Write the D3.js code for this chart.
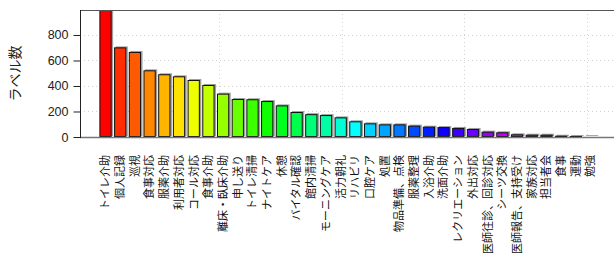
<!DOCTYPE html>
<html>
<head>
<meta charset="utf-8">
<script src="https://cdn.jsdelivr.net/npm/d3@7"></script>
<style>
  body { margin: 0; background: #fff; }
  text { font-family: "Liberation Sans", Arial, sans-serif; }
  .jp { font-family: "Noto Sans CJK JP", sans-serif; }
</style>
</head>
<body>
<div id="chart"></div>
<script>
var labels = ["トイレ介助", "個人記録", "巡視", "食事対応", "服薬介助", "利用者対応", "コール対応",
  "食事介助", "離床・臥床介助", "申し送り", "トイレ清掃", "ナイトケア", "休憩", "バイタル確認",
  "館内清掃", "モーニングケア", "活力朝礼", "リハビリ", "口腔ケア", "処置", "物品準備、点検",
  "服薬整理", "入浴介助", "洗面介助", "レクリエーション", "外出対応", "医師往診、回診対応",
  "シーツ交換", "医師報告、支持受け", "家族対応", "担当者会", "食事", "運動", "勉強"];
var counts = [1000, 703, 667, 523, 492, 476, 447, 408, 340, 298, 296, 282, 248, 196,
  179, 172, 154, 123, 107, 99, 99, 89, 81, 78, 71, 63, 42, 37, 21, 18, 18, 10, 8, 7];
var yTicks = [0, 200, 400, 600, 800];
var xGrid = [10, 20, 30, 40];

var W = 614, H = 273;
var box = {left: 80, top: 10, bottom: 137, right: 616.6};

var svg = d3.select("#chart").append("svg")
    .attr("width", W)
    .attr("height", H);

// R barplot style units: bar i spans 0.2+1.2i .. 1.2+1.2i
var x = d3.scaleLinear()
    .domain([-1.424, 42.424])
    .range([box.left - 0.5, box.right]);
var y = d3.scaleLinear()
    .domain([0, 996])
    .range([box.bottom, box.top]);

var color = function(i) { return d3.hsl(i / labels.length * 360, 1, 0.5).toString(); };

svg.append("defs").append("clipPath").attr("id", "plotclip")
  .append("rect")
    .attr("x", box.left).attr("y", box.top)
    .attr("width", box.right - box.left).attr("height", box.bottom - box.top);

// grid
var grid = svg.append("g").attr("clip-path", "url(#plotclip)");
grid.selectAll(".hg")
  .data(yTicks.slice(1))
  .enter().append("line")
    .attr("x1", box.left).attr("x2", box.right)
    .attr("y1", function(d) { return Math.round(y(d)) + 0.5; })
    .attr("y2", function(d) { return Math.round(y(d)) + 0.5; })
    .style("stroke", "#d3d3d3")
    .style("stroke-dasharray", "1,3");
grid.selectAll(".vg")
  .data(xGrid)
  .enter().append("line")
    .attr("x1", function(d) { return Math.round(x(d)) + 0.5; })
    .attr("x2", function(d) { return Math.round(x(d)) + 0.5; })
    .attr("y1", box.top).attr("y2", box.bottom)
    .style("stroke", "#d3d3d3")
    .style("stroke-dasharray", "1,3");

// bars with a gray shadow
var bars = svg.append("g").attr("clip-path", "url(#plotclip)");
bars.selectAll(".shadow")
  .data(counts)
  .enter().append("rect")
    .attr("x", function(d, i) { return x(0.2 + 1.2 * i) + 1.5; })
    .attr("y", function(d) { return y(d) - 1; })
    .attr("width", x(1) - x(0))
    .attr("height", function(d) { return y(0) - y(d); })
    .style("fill", "#a0a0a0");
bars.selectAll(".bar")
  .data(counts)
  .enter().append("rect")
    .attr("x", function(d, i) { return x(0.2 + 1.2 * i) + 0.5; })
    .attr("y", function(d) { return y(d) + 0.5; })
    .attr("width", x(1) - x(0) - 1)
    .attr("height", function(d) { return Math.max(0, y(0) - y(d) - 1); })
    .style("fill", function(d, i) { return color(i); })
    .style("stroke", "#111")
    .style("stroke-width", 1);

// box
svg.append("line")
    .attr("x1", box.left).attr("x2", W)
    .attr("y1", box.top + 0.5).attr("y2", box.top + 0.5)
    .style("stroke", "#555");
svg.append("line")
    .attr("x1", box.left).attr("x2", W)
    .attr("y1", box.bottom + 0.5).attr("y2", box.bottom + 0.5)
    .style("stroke", "#777").style("stroke-width", 1.5);

// y axis
var yAxis = svg.append("g")
    .attr("transform", "translate(" + (box.left + 0.5) + ",0)")
    .call(d3.axisLeft(y).tickValues(yTicks).tickSize(7).tickPadding(5).tickSizeOuter(0));
yAxis.select(".domain").remove();
yAxis.append("line")
    .attr("y1", box.top).attr("y2", box.bottom + 1)
    .style("stroke", "#222");
yAxis.selectAll(".tick line").style("stroke", "#222");
yAxis.selectAll("text")
    .style("font-size", "12.5px")
    .style("fill", "#222")
    .style("font-family", "Liberation Sans, Arial, sans-serif");

svg.append("text")
    .attr("class", "jp")
    .attr("transform", "translate(20," + ((box.top + box.bottom) / 2) + ") rotate(-90)")
    .style("text-anchor", "middle")
    .style("font-size", "14px")
    .style("fill", "#222")
    .text("ラベル数");

// category labels
svg.selectAll(".catLabel")
  .data(labels)
  .enter().append("text")
    .attr("class", "jp")
    .attr("transform", function(d, i) {
      return "translate(" + x(0.7 + 1.2 * i) + ",155) rotate(-90)";
    })
    .attr("dy", "0.35em")
    .style("text-anchor", "end")
    .style("font-size", "11px")
    .style("fill", "#111")
    .text(function(d) { return d; });
</script>
</body>
</html>
